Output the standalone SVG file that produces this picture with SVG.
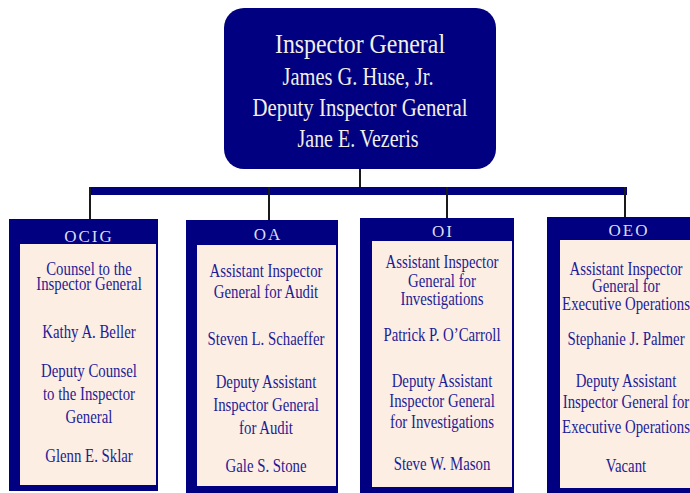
<svg xmlns="http://www.w3.org/2000/svg" width="690" height="493" viewBox="0 0 690 493">
<style>
.navy{fill:#000080}
.cream{fill:#fdeee3}
.conn{stroke:#1a1a1a;stroke-width:2;fill:none}
.top{font-family:"Liberation Serif",serif;fill:#f2efe6;text-anchor:middle}
.hdr{font-family:"Liberation Serif",serif;font-size:17px;letter-spacing:2px;fill:#dcdcf2;text-anchor:middle}
.body{font-family:"Liberation Serif",serif;font-size:19px;fill:#1c1c96;text-anchor:middle}
</style>
<rect width="690" height="493" fill="#ffffff"/>
<g id="connectors">
<line class="conn" x1="360" y1="168" x2="360" y2="190"/>
<rect class="navy" x="90" y="187" width="537" height="8"/>
<line class="conn" x1="90" y1="187" x2="90" y2="220"/>
<line class="conn" x1="269" y1="187" x2="269" y2="221"/>
<line class="conn" x1="447" y1="187" x2="447" y2="219"/>
<line class="conn" x1="625" y1="187" x2="625" y2="218"/>
</g>
<g id="inspector-general">
<rect class="navy" x="224" y="8" width="272" height="161" rx="20" ry="20"/>
<text class="top" x="360" y="53" font-size="27" textLength="170" lengthAdjust="spacingAndGlyphs">Inspector General</text>
<text class="top" x="358" y="85" font-size="26" textLength="151" lengthAdjust="spacingAndGlyphs">James G. Huse, Jr.</text>
<text class="top" x="360" y="116" font-size="26" textLength="215" lengthAdjust="spacingAndGlyphs">Deputy Inspector General</text>
<text class="top" x="358" y="147" font-size="26" textLength="121" lengthAdjust="spacingAndGlyphs">Jane E. Vezeris</text>
</g>
<g id="ocig">
<rect class="navy" x="9" y="219" width="149" height="272"/>
<rect class="cream" x="20" y="244" width="136" height="241"/>
<text class="hdr" x="89" y="242">OCIG</text>
<g transform="translate(89,0) scale(0.78,1)">
<text class="body" x="0" y="275">Counsel to the</text>
<text class="body" x="0" y="290">Inspector General</text>
<text class="body" x="0" y="338">Kathy A. Beller</text>
<text class="body" x="0" y="377">Deputy Counsel</text>
<text class="body" x="0" y="400">to the Inspector</text>
<text class="body" x="0" y="423">General</text>
<text class="body" x="0" y="462">Glenn E. Sklar</text>
</g>
</g>
<g id="oa">
<rect class="navy" x="186" y="220" width="152" height="273"/>
<rect class="cream" x="197" y="245" width="139" height="241"/>
<text class="hdr" x="268" y="240">OA</text>
<g transform="translate(266,0) scale(0.78,1)">
<text class="body" x="0" y="277">Assistant Inspector</text>
<text class="body" x="0" y="298">General for Audit</text>
<text class="body" x="0" y="345">Steven L. Schaeffer</text>
<text class="body" x="0" y="388">Deputy Assistant</text>
<text class="body" x="0" y="411">Inspector General</text>
<text class="body" x="0" y="434">for Audit</text>
<text class="body" x="0" y="472">Gale S. Stone</text>
</g>
</g>
<g id="oi">
<rect class="navy" x="360" y="218" width="154" height="275"/>
<rect class="cream" x="372" y="241" width="140" height="246"/>
<text class="hdr" x="443" y="237">OI</text>
<g transform="translate(442,0) scale(0.78,1)">
<text class="body" x="0" y="268">Assistant Inspector</text>
<text class="body" x="0" y="287">General for</text>
<text class="body" x="0" y="305">Investigations</text>
<text class="body" x="0" y="341">Patrick P. O’Carroll</text>
<text class="body" x="0" y="387">Deputy Assistant</text>
<text class="body" x="0" y="407">Inspector General</text>
<text class="body" x="0" y="428">for Investigations</text>
<text class="body" x="0" y="470">Steve W. Mason</text>
</g>
</g>
<g id="oeo">
<rect class="navy" x="547" y="217" width="150" height="276"/>
<rect class="cream" x="560" y="240" width="137" height="248"/>
<text class="hdr" x="629" y="236">OEO</text>
<g transform="translate(626,0) scale(0.78,1)">
<text class="body" x="0" y="275">Assistant Inspector</text>
<text class="body" x="0" y="292">General for</text>
<text class="body" x="0" y="310">Executive Operations</text>
<text class="body" x="0" y="345">Stephanie J. Palmer</text>
<text class="body" x="0" y="387">Deputy Assistant</text>
<text class="body" x="0" y="408">Inspector General for</text>
<text class="body" x="0" y="433">Executive Operations</text>
<text class="body" x="0" y="472">Vacant</text>
</g>
</g>
</svg>
